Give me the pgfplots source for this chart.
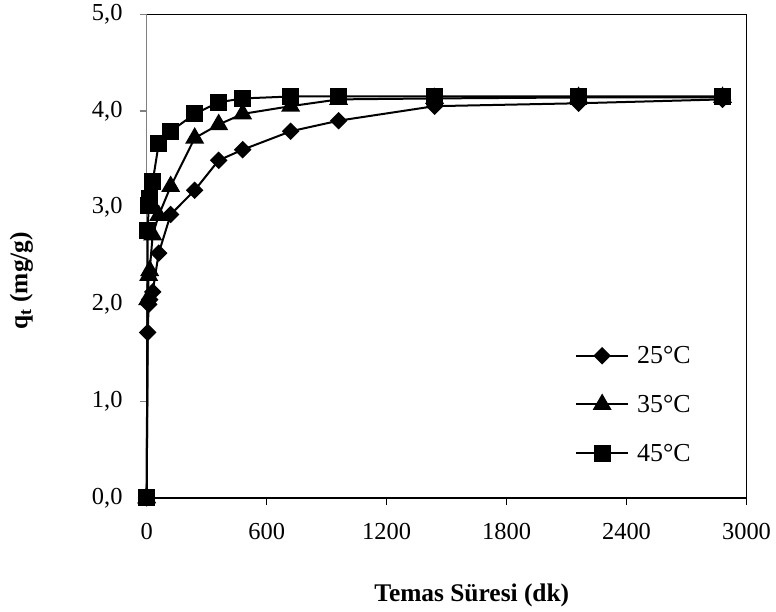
\documentclass[border=0pt]{standalone}
\usepackage{fontspec}
\setmainfont{Liberation Serif}
\usepackage{pgfplots}
\pgfplotsset{compat=1.18}

\begin{document}
\begin{tikzpicture}
\useasboundingbox (-146.7bp,-114.2bp) rectangle (629.3bp,497.8bp);
\begin{axis}[
  at={(0,0)}, anchor=south west,
  scale only axis, width=599.8bp, height=483.5bp,
  xmin=0, xmax=3000, ymin=0, ymax=5,
  clip=false,
  axis x line=bottom, axis y line=left,
  x axis line style={-, black, line width=1.6bp},
  y axis line style={-, gray, line width=1.6bp},
  xtick={0,600,1200,1800,2400,3000}, ytick={0,1,2,3,4,5},
  tick align=outside, major tick length=7bp,
  xtick style={black, line width=1.2bp},
  ytick style={gray, line width=1.2bp},
  /pgf/number format/assume math mode=true,
  ticklabel style={font=\fontsize{24.5}{26}\selectfont},
  xticklabel style={/pgf/number format/1000 sep={}, anchor=north, inner sep=0pt},
  yticklabel style={/pgf/number format/.cd, fixed, fixed zerofill, precision=1, use comma, /tikz/.cd, anchor=east, inner sep=0pt},
  xticklabel shift=18bp,
  yticklabel shift=17bp,
  xlabel={\textbf{Temas Süresi (dk)}},
  ylabel={\textbf{q\textsubscript{t} (mg/g)}},
  xlabel style={font=\fontsize{25.5}{27}\selectfont, at={(axis description cs:0.542,-0.215)}, anchor=base},
  ylabel style={font=\fontsize{25.5}{27}\selectfont, at={(axis description cs:-0.199,0.449)}, anchor=base},
  legend style={draw=none, fill=none, at={(axis description cs:0.714,0.193)}, anchor=west, inner sep=0pt, row sep=26bp, font=\fontsize{26}{27}\selectfont, /tikz/every odd column/.style={column sep=6bp}},
  legend cell align=left,
  legend image code/.code={\draw[mark repeat=2,mark phase=2] plot coordinates {(0bp,0bp) (26bp,0bp) (52bp,0bp)};},
  every axis plot/.append style={black, line width=2bp},
]
\addplot[mark=square*, mark size=5.2bp, mark options={solid, fill=black, rotate=45}] coordinates {
(0,0)(5,1.71)(10,2.00)(15,2.05)(30,2.13)(60,2.53)(120,2.93)(240,3.18)(360,3.49)(480,3.60)(720,3.79)(960,3.90)(1440,4.05)(2160,4.08)(2880,4.12)};
\addlegendentry{25°C}
\addplot[mark=triangle*, mark size=9bp, mark options={solid, fill=black}] coordinates {
(0,0)(5,2.05)(10,2.30)(15,2.35)(30,2.72)(60,2.92)(120,3.22)(240,3.72)(360,3.86)(480,3.97)(720,4.05)(960,4.12)(1440,4.13)(2160,4.14)(2880,4.14)};
\addlegendentry{35°C}
\addplot[mark=square*, mark size=7.5bp, mark options={solid, fill=black}] coordinates {
(0,0)(5,2.76)(10,3.02)(15,3.10)(30,3.27)(60,3.66)(120,3.79)(240,3.97)(360,4.09)(480,4.13)(720,4.15)(960,4.15)(1440,4.15)(2160,4.15)(2880,4.15)};
\addlegendentry{45°C}
\draw[black, line width=1.6bp] (rel axis cs:0,1) -- (rel axis cs:1,1) -- (rel axis cs:1,0);
\end{axis}
\end{tikzpicture}
\end{document}
